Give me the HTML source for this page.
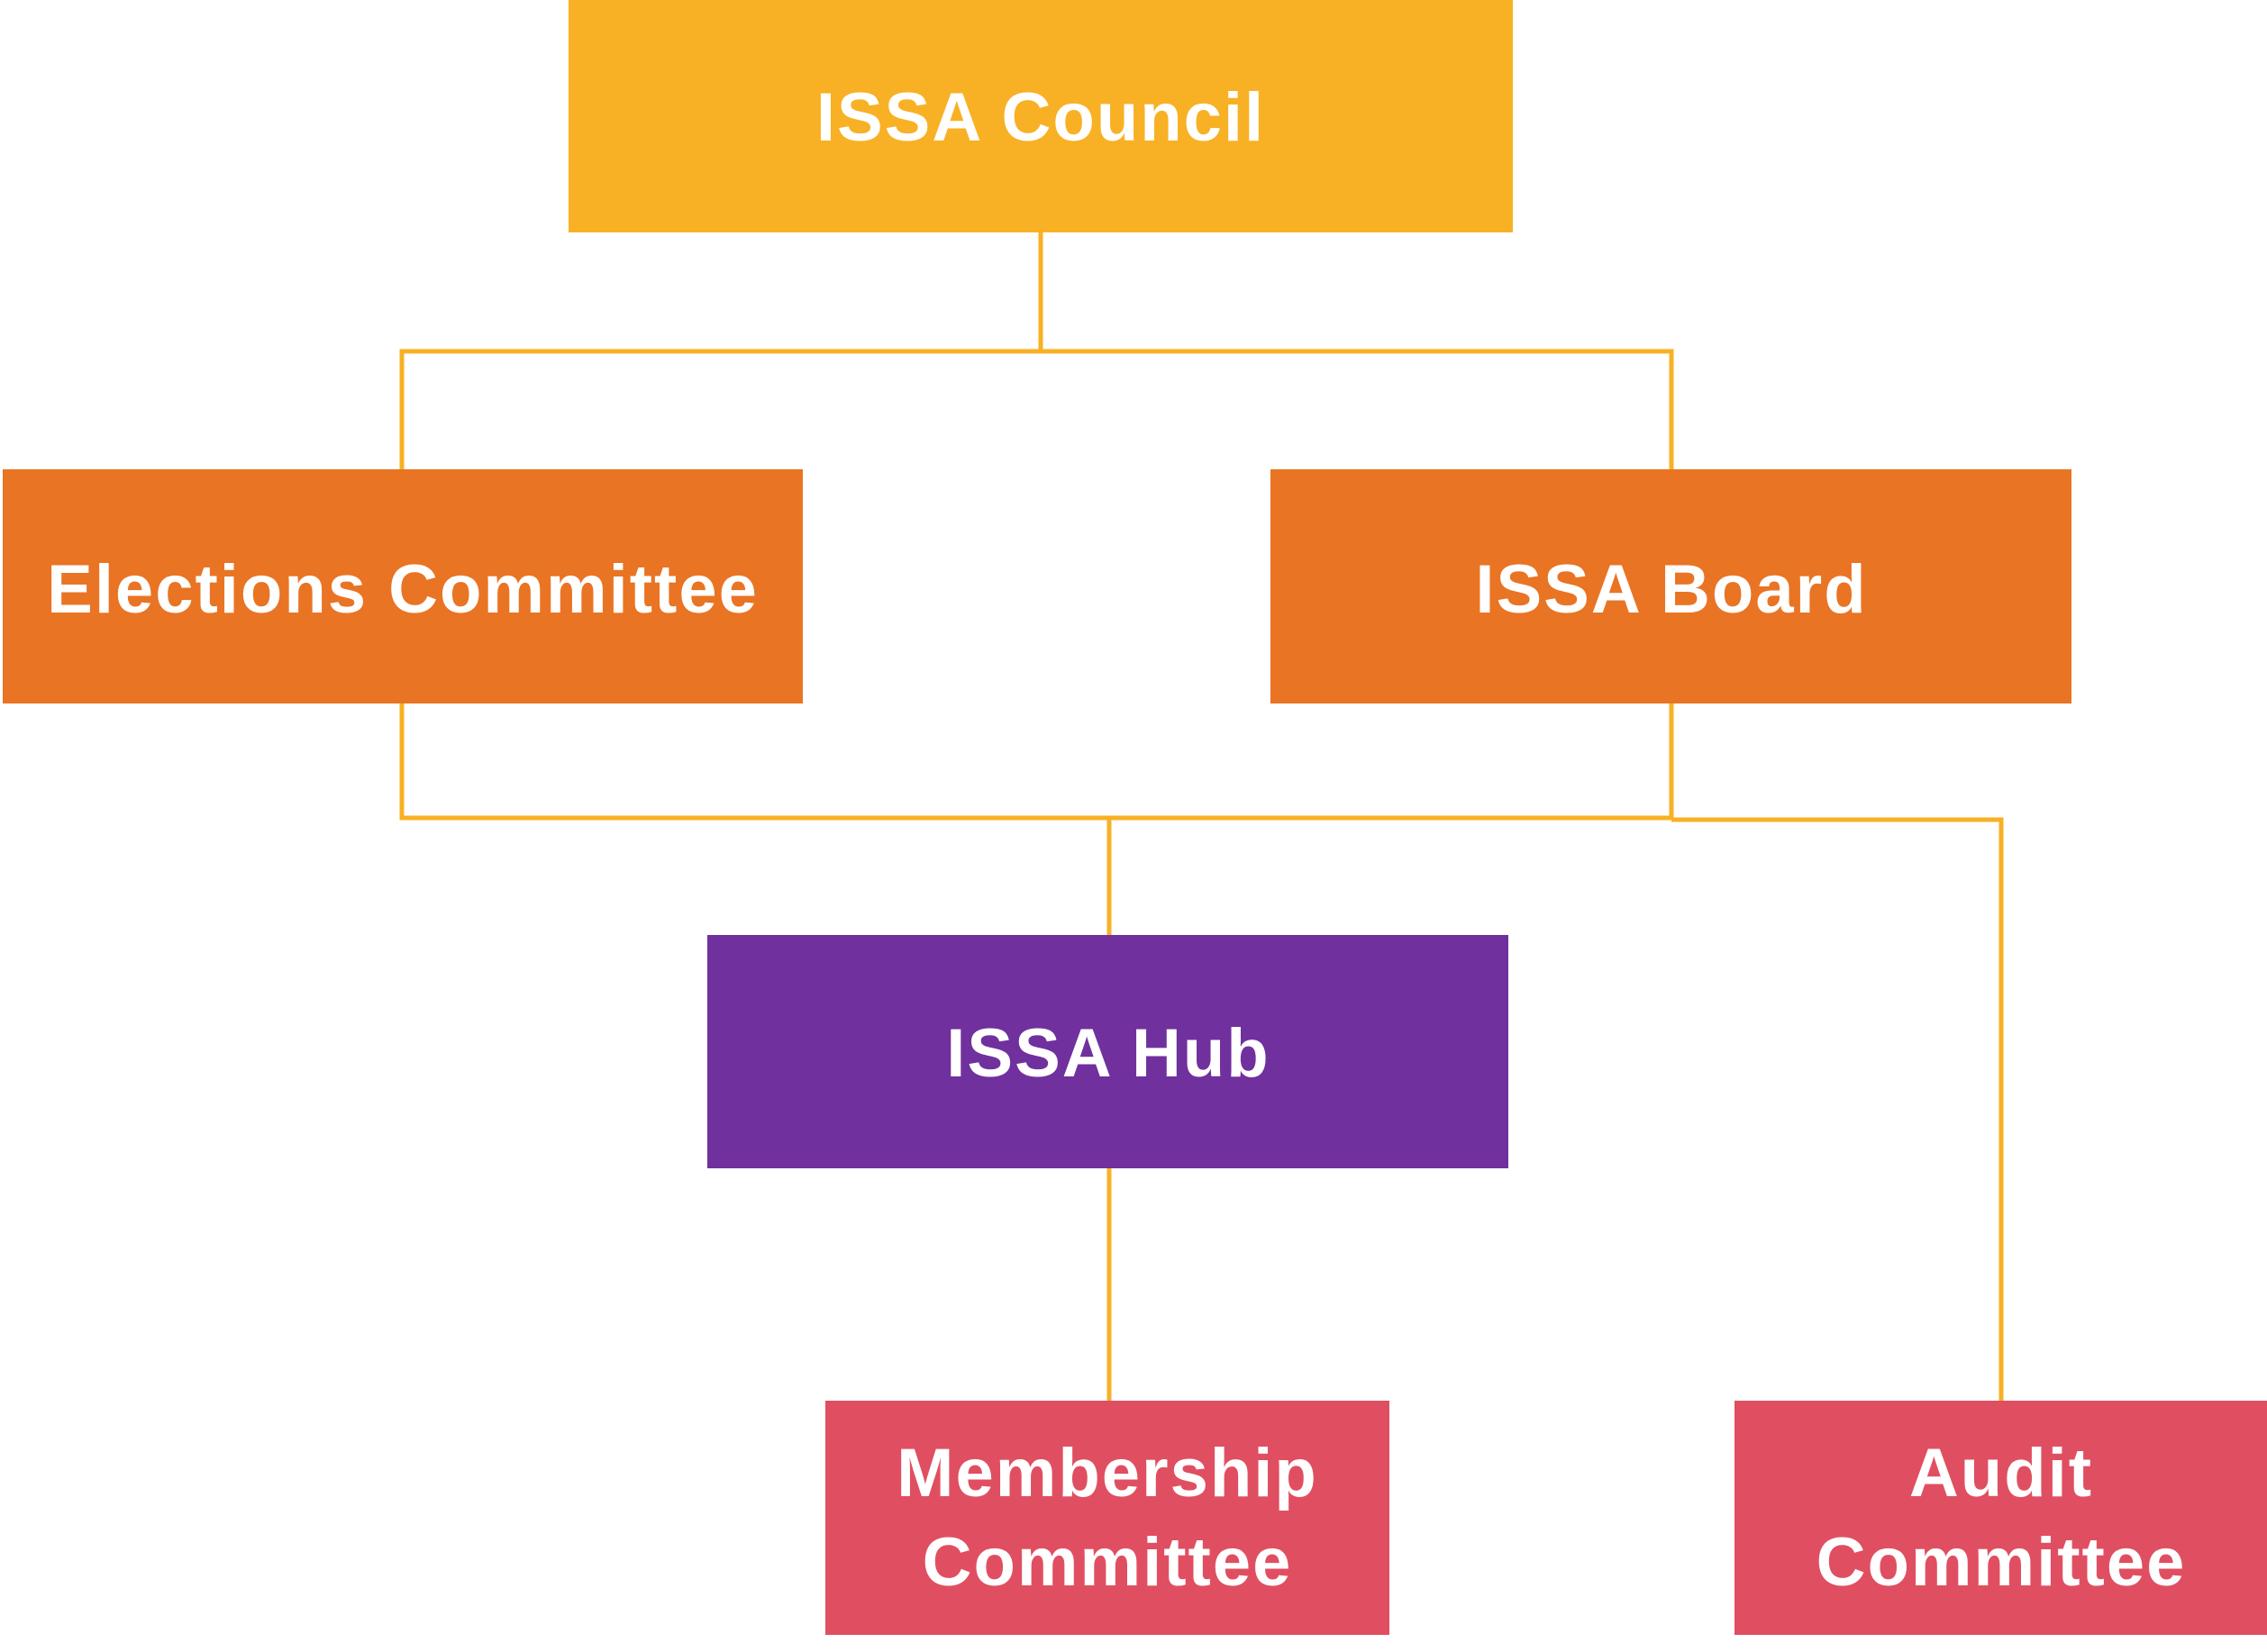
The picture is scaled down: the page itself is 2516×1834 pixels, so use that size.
<!DOCTYPE html>
<html><head><style>
html,body{margin:0;padding:0;background:#fff;}
svg{display:block;}
text{font-family:"Liberation Sans",sans-serif;font-weight:bold;fill:#fff;font-size:76px;letter-spacing:2px;text-anchor:middle;}
</style></head><body>
<svg width="2516" height="1834" viewBox="0 0 2516 1834" xmlns="http://www.w3.org/2000/svg">
<g stroke="#F8B124" stroke-width="5" fill="none">
<line x1="1155" y1="258" x2="1155" y2="390"/>
<polyline points="446,521 446,390 1855,390 1855,521"/>
<polyline points="446,781 446,908 1855,908"/>
<line x1="1855" y1="781" x2="1855" y2="908"/>
<polyline points="1855,910 2221,910 2221,1555"/>
<line x1="1231" y1="908" x2="1231" y2="1038"/>
<line x1="1231" y1="1297" x2="1231" y2="1555"/>
</g>
<rect x="631" y="0" width="1048" height="258" fill="#F8B124"/>
<rect x="3" y="521" width="888" height="260" fill="#E97424"/>
<rect x="1410" y="521" width="889" height="260" fill="#E97424"/>
<rect x="785" y="1038" width="889" height="259" fill="#70309D"/>
<rect x="916" y="1555" width="626" height="260" fill="#E04F61"/>
<rect x="1925" y="1555" width="591" height="260" fill="#E04F61"/>
<text x="1155" y="156">ISSA Council</text>
<text x="447" y="680">Elections Committee</text>
<text x="1855" y="680">ISSA Board</text>
<text x="1230" y="1195">ISSA Hub</text>
<text x="1229" y="1661">Membership</text>
<text x="1229" y="1760">Committee</text>
<text x="2221" y="1661">Audit</text>
<text x="2221" y="1760">Committee</text>
</svg>
</body></html>
